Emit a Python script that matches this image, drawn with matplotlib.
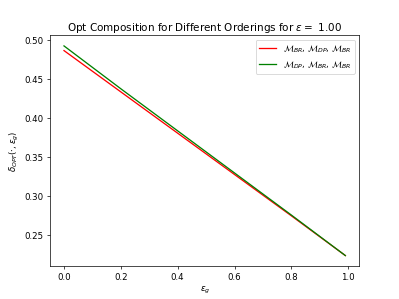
import numpy as np
import matplotlib.pyplot as plt

# values at a few eps_g points
eps_g = [0.0, 0.2, 0.4, 0.6, 0.8, 0.99]
delta_br_dp_br = [0.487, 0.434, 0.381, 0.328, 0.275, 0.224]
delta_dp_br_br = [0.493, 0.438, 0.384, 0.330, 0.276, 0.224]
eps = 1.00

fig = plt.figure(figsize=(6.4, 4.8), dpi=62.4)
plt.plot(eps_g, delta_br_dp_br, color='red',
         label=r'$\mathcal{M}_{BR}$, $\mathcal{M}_{DP}$, $\mathcal{M}_{BR}$')
plt.plot(eps_g, delta_dp_br_br, color='green',
         label=r'$\mathcal{M}_{DP}$, $\mathcal{M}_{BR}$, $\mathcal{M}_{BR}$')
plt.xlabel(r'$\epsilon_g$')
plt.ylabel(r'$\delta_{OPT}(\cdot, \epsilon_g)$')
plt.title(r'Opt Composition for Different Orderings for $\epsilon =$ ' + f'{eps:.2f}')
plt.legend(loc='upper right')
plt.savefig('out.png', dpi=62.4)
